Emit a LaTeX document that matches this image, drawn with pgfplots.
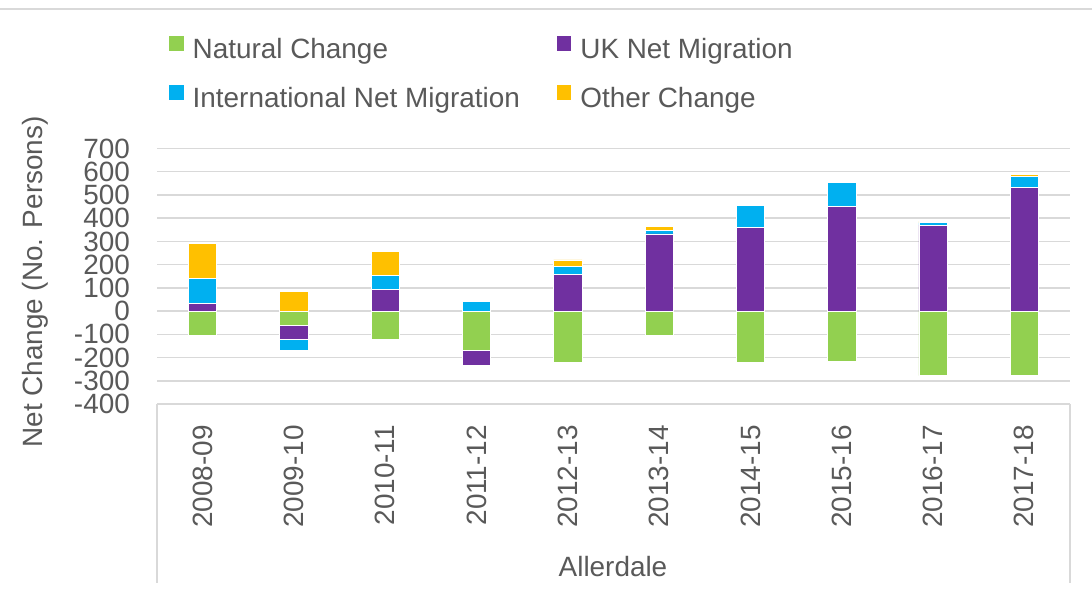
\documentclass[border=0pt]{standalone}
\usepackage{fontspec}
\setmainfont{Liberation Sans}
\usepackage{pgfplots}
\pgfplotsset{compat=1.18}
\usepackage{pgfplotstable}
\definecolor{natc}{HTML}{92D050}
\definecolor{ukc}{HTML}{7030A0}
\definecolor{intc}{HTML}{00B0F0}
\definecolor{othc}{HTML}{FFC000}
\definecolor{txt}{HTML}{595959}
\definecolor{gridc}{HTML}{D9D9D9}

% positive parts of each component
\pgfplotstableread{
x nat uk int oth
0 0 33 109 150
1 0 0 0 83
2 0 93 60 104
3 0 0 41 5
4 0 159 34 27
5 0 332 17 17
6 0 360 94 0
7 0 449 104 5
8 0 370 11 5
9 0 531 50 6
}\postab
% negative parts of each component
\pgfplotstableread{
x nat uk int oth
0 -103 0 0 0
1 -61 -62 -48 0
2 -121 0 0 0
3 -171 -62 0 0
4 -221 0 0 0
5 -106 0 0 0
6 -222 0 0 -5
7 -216 0 0 0
8 -278 0 0 0
9 -278 0 0 0
}\negtab

\newcommand{\bigf}{\fontsize{28}{32}\selectfont}

\pgfplotsset{
  base/.style={
    scale only axis, width=913bp, height=255.5bp,
    at={(157bp,188bp)}, anchor=south west,
    xmin=-0.5, xmax=9.5, ymin=-400, ymax=700,
    ybar stacked, bar width=0.31,
    every axis plot/.append style={draw=white, line width=0.75bp},
  }
}

\begin{document}
\begin{tikzpicture}
\useasboundingbox (0,0) rectangle (1092bp,592bp);
\draw[gridc, line width=2.5bp] (0,583bp) -- (1092bp,583bp);

\begin{axis}[base,
  axis line style={draw=none},
  major tick length=0pt,
  ymajorgrids, grid style={gridc, line width=1.5bp},
  ytick={-400,-300,-200,-100,0,100,200,300,400,500,600,700},
  yticklabels={-400,-300,-200,-100,0,100,200,300,400,500,600,700},
  yticklabel style={font=\bigf, text=txt, inner sep=0pt, anchor=east},
  yticklabel shift=27bp,
  xtick={0,...,9},
  xticklabels={2008-09,2009-10,2010-11,2011-12,2012-13,2013-14,2014-15,2015-16,2016-17,2017-18},
  xticklabel style={font=\bigf, text=txt, inner sep=0pt, rotate=90, anchor=east},
  xticklabel shift=21bp,
  legend columns=2,
  legend cell align=left,
  legend image code/.code={\fill[#1,draw=none] (0bp,0bp) rectangle (14.5bp,14.5bp);},
  legend style={draw=none, fill=none, inner xsep=0pt, inner ysep=0pt,
    at={(axis description cs:0.01314,1.4403)}, anchor=north west,
    font=\bigf, text=txt,
    nodes={inner sep=0pt, text height=21bp, text depth=6bp},
    /tikz/every odd column/.append style={column sep=9bp},
    /tikz/every even column/.append style={column sep=37bp},
    row sep=21bp},
]
\addplot[fill=natc] table[x=x,y=nat] {\postab};
\addplot[fill=ukc] table[x=x,y=uk] {\postab};
\addplot[fill=intc] table[x=x,y=int] {\postab};
\addplot[fill=othc] table[x=x,y=oth] {\postab};
\legend{Natural Change, UK Net Migration, International Net Migration, Other Change}
\end{axis}

\begin{axis}[base, hide axis]
\addplot[fill=natc] table[x=x,y=nat] {\negtab};
\addplot[fill=ukc] table[x=x,y=uk] {\negtab};
\addplot[fill=intc] table[x=x,y=int] {\negtab};
\addplot[fill=othc] table[x=x,y=oth] {\negtab};
\end{axis}

\draw[gridc, line width=1.5bp] (157bp,188bp) -- (157bp,9bp);
\draw[gridc, line width=1.5bp] (1070bp,188bp) -- (1070bp,9bp);

\node[rotate=90, font=\bigf, text=txt, inner sep=0pt] at (35.5bp,310bp) {Net Change (No. Persons)};
\node[font=\bigf, text=txt, inner sep=0pt, anchor=base] at (613bp,15.5bp) {Allerdale};
\end{tikzpicture}
\end{document}
